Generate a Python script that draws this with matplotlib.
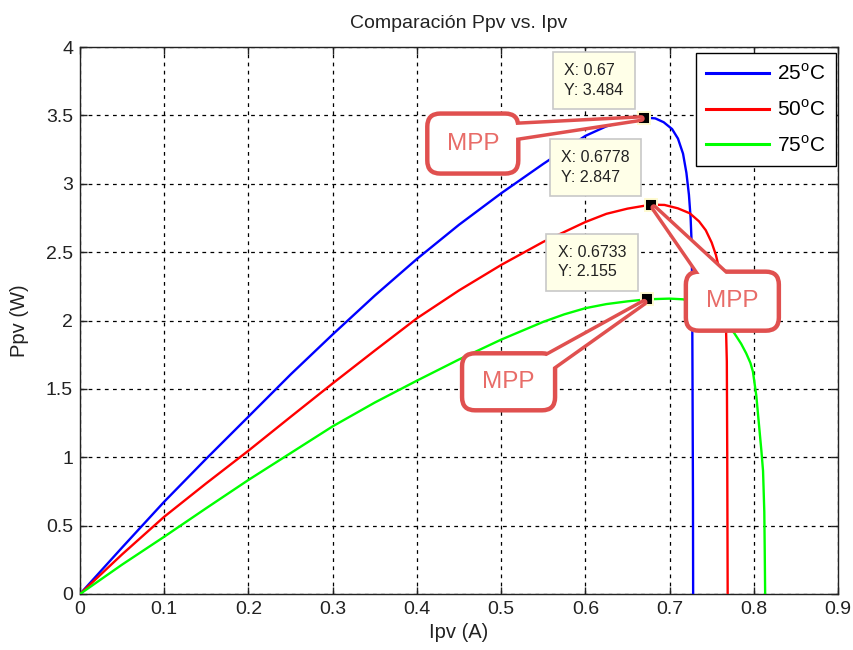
import matplotlib
matplotlib.use('Agg')
import matplotlib.pyplot as plt
from matplotlib.patches import FancyBboxPatch, Polygon
from matplotlib import transforms

# ---------------- data ----------------
ipv_25 = [0, 0.05, 0.1, 0.15, 0.2, 0.25, 0.3, 0.35, 0.4, 0.45, 0.5, 0.55, 0.6, 0.625, 0.65, 0.67,
          0.683, 0.693, 0.703, 0.71, 0.716, 0.72, 0.723, 0.725, 0.726, 0.7268, 0.7273, 0.7278, 0.728]
ppv_25 = [0, 0.34, 0.675, 0.99, 1.297, 1.605, 1.898, 2.182, 2.45, 2.70, 2.93, 3.145, 3.35, 3.42, 3.465, 3.484,
          3.478, 3.45, 3.40, 3.33, 3.22, 3.08, 2.92, 2.75, 2.6, 2.3, 1.5, 0.7, 0]

ipv_50 = [0, 0.05, 0.1, 0.15, 0.2, 0.25, 0.3, 0.35, 0.4, 0.45, 0.5, 0.55, 0.6, 0.625, 0.65, 0.6778,
          0.694, 0.71, 0.724, 0.735, 0.743, 0.75, 0.755, 0.76, 0.764, 0.767, 0.768, 0.7685, 0.769]
ppv_50 = [0, 0.29, 0.565, 0.81, 1.048, 1.295, 1.54, 1.78, 2.016, 2.22, 2.406, 2.575, 2.72, 2.78, 2.818, 2.847,
          2.845, 2.82, 2.784, 2.725, 2.66, 2.57, 2.48, 2.35, 2.2, 1.95, 1.7, 1.0, 0]

ipv_75 = [0, 0.05, 0.1, 0.15, 0.2, 0.25, 0.3, 0.35, 0.4, 0.45, 0.5, 0.55, 0.575, 0.6, 0.625, 0.65, 0.6733,
          0.7, 0.716, 0.73, 0.745, 0.76, 0.77, 0.777, 0.785, 0.791, 0.796, 0.799, 0.803, 0.806,
          0.809, 0.811, 0.8125, 0.813, 0.8135]
ppv_75 = [0, 0.215, 0.419, 0.628, 0.834, 1.03, 1.226, 1.40, 1.56, 1.715, 1.86, 1.99, 2.045, 2.09, 2.12, 2.14, 2.155,
          2.16, 2.155, 2.13, 2.08, 2.01, 1.96, 1.906, 1.83, 1.76, 1.69, 1.626, 1.45, 1.25,
          1.05, 0.9, 0.6, 0.32, 0]

series_labels = ['25$^{\\mathrm{o}}$C', '50$^{\\mathrm{o}}$C', '75$^{\\mathrm{o}}$C']
series_colors = ['#0000ff', '#ff0000', '#00ff00']

mpp_x = [0.67, 0.6778, 0.6733]
mpp_y = [3.484, 2.847, 2.155]

title = 'Comparación Ppv vs. Ipv'
xlabel = 'Ipv (A)'
ylabel = 'Ppv (W)'
xticks = [0, 0.1, 0.2, 0.3, 0.4, 0.5, 0.6, 0.7, 0.8, 0.9]
yticks = [0, 0.5, 1, 1.5, 2, 2.5, 3, 3.5, 4]

# ---------------- style ----------------
regular = ['Liberation Sans', 'DejaVu Sans']
plt.rcParams['font.family'] = regular
plt.rcParams['mathtext.fontset'] = 'custom'
plt.rcParams['mathtext.rm'] = 'Liberation Sans'

fig = plt.figure(figsize=(8.54, 6.5), dpi=100)
ax = fig.add_axes([80 / 854, 56 / 650, 758 / 854, 547 / 650])

for xs, ys, lab, col in zip([ipv_25, ipv_50, ipv_75], [ppv_25, ppv_50, ppv_75],
                            series_labels, series_colors):
    ax.plot(xs, ys, color=col, lw=1.7, label=lab, zorder=3)

ax.set_xlim(0, 0.9)
ax.set_ylim(0, 4)
ax.set_xticks(xticks)
ax.set_yticks(yticks)
ax.set_xticklabels([f'{v:g}' for v in xticks], fontsize=14)
ax.set_yticklabels([f'{v:g}' for v in yticks], fontsize=14)
ax.tick_params(direction='in', top=True, right=True, length=5, width=1, pad=5, colors='#222222')
ax.grid(True, color='black', linestyle=(0, (3, 3.5)), linewidth=0.9)
for s in ax.spines.values():
    s.set_linewidth(1.0)
    s.set_color('#222222')

ax.set_title(title, fontsize=14, pad=14, color='#222222')
ax.set_xlabel(xlabel, fontsize=14.5, labelpad=4, color='#222222')
ax.set_ylabel(ylabel, fontsize=14.5, labelpad=12, color='#222222')

leg = ax.legend(loc='upper right', bbox_to_anchor=(0.9974, 0.989), borderaxespad=0,
                fancybox=False, edgecolor='black', framealpha=1, fontsize=15,
                handlelength=3.0, handletextpad=0.4, labelspacing=0.72,
                borderpad=0.5)
leg.get_frame().set_linewidth(1.0)
for h in leg.get_lines():
    h.set_linewidth(2.2)
leg.set_zorder(20)

# MPP markers and data tips
for mx, my in zip(mpp_x, mpp_y):
    ax.plot([mx], [my], marker='s', ms=8.5, mfc='black', mec='#fffbd0', mew=1.4,
            zorder=30, clip_on=False)
    ax.annotate(f'X: {mx:g}\nY: {my:g}', xy=(mx, my), xytext=(-21, 20),
                textcoords='offset pixels', ha='right', va='bottom',
                multialignment='left', fontsize=11.5, linespacing=1.35,
                color='#222222',
                bbox=dict(boxstyle='square,pad=0.72', fc='#ffffe8', ec='#c8c8c8', lw=1.2),
                zorder=15)

# MPP callouts (offsets in inches relative to each marker)
red = '#e0504f'
txt_red = '#e86c68'
callouts = [
    # box (x0, y0, w, h), wedge base points, tip
    ((-2.17, -0.56, 0.91, 0.60), [(-1.40, -0.08), (-1.40, -0.22)], (-0.03, -0.01)),
    ((0.35, -1.26, 0.93, 0.59), [(0.52, -0.74), (0.80, -0.74)], (0.03, -0.03)),
    ((-1.85, -1.11, 0.93, 0.57), [(-1.10, -0.62), (-1.00, -0.72)], (-0.03, -0.03)),
]
for (mx, my), (bx, base, tip) in zip(zip(mpp_x, mpp_y), callouts):
    trans = fig.dpi_scale_trans + transforms.ScaledTranslation(mx, my, ax.transData)
    poly = [base[0], base[1], tip]
    w1 = Polygon(poly, closed=True, fc='white', ec=red, lw=5.0, transform=trans,
                 zorder=22, clip_on=False, joinstyle='round')
    fig.add_artist(w1)
    box = FancyBboxPatch((bx[0], bx[1]), bx[2], bx[3],
                         boxstyle='round,pad=0,rounding_size=0.13',
                         fc='white', ec=red, lw=3.2, transform=trans,
                         zorder=23, clip_on=False)
    fig.add_artist(box)
    w2 = Polygon(poly, closed=True, fc='white', ec='none', transform=trans,
                 zorder=24, clip_on=False)
    fig.add_artist(w2)
    fig.text(bx[0] + bx[2] / 2, bx[1] + bx[3] / 2, 'MPP', transform=trans,
             ha='center', va='center', fontsize=17.5, color=txt_red, zorder=25)

fig.savefig('out.png', dpi=100)
